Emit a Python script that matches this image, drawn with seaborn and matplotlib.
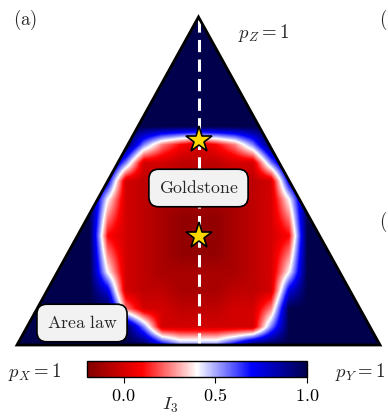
import numpy as np
import matplotlib
matplotlib.use("Agg")
import matplotlib.pyplot as plt
from matplotlib.patches import Polygon
import seaborn as sns

sns.set_theme(style="white")
plt.rcParams["mathtext.fontset"] = "cm"
plt.rcParams["font.family"] = ["DejaVu Serif"]

# I3 value for each level code used in the grid below
level_values = [-0.15, -0.10, -0.05, 0.00, 0.10, 0.25, 0.40, 0.55, 0.75, 1.00]

# I3 on a regular grid over the simplex: rows from p_Z = 1 (top) down to the
# p_X--p_Y edge, 21 columns from the p_X corner to the p_Y corner
i3_rows = [
    "999999999999999999999",
    "999999999999999999999",
    "999999999999999999999",
    "999999999999999999999",
    "999999999999999999999",
    "999999999999999999999",
    "999999999999999999999",
    "999999975434579999999",
    "999999733222337999999",
    "999998322212223899999",
    "999996321111123699999",
    "999995321000123599999",
    "999994321000123499999",
    "999995321000123599999",
    "999996321111123699999",
    "999998322111223899999",
    "999999533222335999999",
    "999999973333337999999",
    "999999998777899999999",
]

# marked points on the p_X = p_Y line
star_pz = [0.625, 1.0 / 3.0]

cbar_ticks = [0.0, 0.5, 1.0]
cbar_ticklabels = [r"$0.0$", r"$0.5$", r"$1.0$"]

W, Hpx = 388, 416
fig = plt.figure(figsize=(W / 100, Hpx / 100), dpi=100)


def fx(px):
    return px / W


def fy(py):
    return 1 - py / Hpx


H = np.sqrt(3) / 2
ax = fig.add_axes([fx(17), fy(345), (380 - 17) / W, (345 - 17) / Hpx])
ax.axis("off")

nrow, ncol = len(i3_rows), len(i3_rows[0])
Z = np.array([[level_values[int(c)] for c in row] for row in i3_rows[::-1]])
dx = 1.0 / (ncol - 1)
dy = H / (nrow - 1)

img = ax.imshow(Z, origin="lower", cmap="seismic_r", vmin=-0.2, vmax=1.0,
                extent=[-dx / 2, 1 + dx / 2, -dy / 2, H + dy / 2],
                interpolation="bilinear", aspect="auto", zorder=1)

simplex = Polygon([(0, 0), (1, 0), (0.5, H)], closed=True, transform=ax.transData,
                  facecolor="none", edgecolor="black", lw=2.0, clip_on=False,
                  joinstyle="miter", zorder=4)
ax.add_patch(simplex)
img.set_clip_path(simplex)
ax.set_xlim(0, 1)
ax.set_ylim(0, H)

# p_X = p_Y line
ax.plot([0.5, 0.5], [0, H], color="white", lw=2.2, ls=(0, (4, 2.4)), zorder=3)

ax.plot([0.5] * len(star_pz), np.array(star_pz) * H, ls="none", marker="*",
        ms=20, mfc="#FFD700", mec="black", mew=1.2, zorder=6, clip_on=False)

box = dict(boxstyle="round,pad=0.55,rounding_size=0.55", fc="#f2f2f2",
           ec="black", lw=1.2)
ax.text(0.5, (345 - 188) / 328 * H, r"$\mathrm{Goldstone}$", ha="center",
        va="center", fontsize=12.8, bbox=box, zorder=7)
ax.text((82 - 17) / 363, (345 - 323) / 328 * H, r"$\mathrm{Area\ law}$",
        ha="center", va="center", fontsize=12.8, bbox=box, zorder=7)

fig.text(fx(25), fy(20), r"$\mathrm{(a)}$", ha="center", va="center", fontsize=13.5)
fig.text(fx(379), fy(20), r"$\mathrm{(}$", ha="left", va="center", fontsize=13.5)
fig.text(fx(379), fy(221), r"$\mathrm{(}$", ha="left", va="center", fontsize=13.5)
fig.text(fx(264), fy(33), r"$p_Z = 1$", ha="center", va="center", fontsize=13.5)
fig.text(fx(35), fy(372), r"$p_X = 1$", ha="center", va="center", fontsize=13.5)
fig.text(fx(360), fy(372), r"$p_Y = 1$", ha="center", va="center", fontsize=13.5)

cax = fig.add_axes([fx(87), fy(377), (307 - 87) / W, 16 / Hpx])
cb = fig.colorbar(img, cax=cax, orientation="horizontal", ticks=cbar_ticks)
cb.set_ticklabels(cbar_ticklabels)
cb.outline.set_linewidth(1.0)
cb.outline.set_edgecolor("black")
cax.tick_params(axis="x", length=4, width=0.8, labelsize=13, pad=3,
                colors="black", bottom=True, direction="out")
cb.set_label(r"$I_3$", fontsize=13.5)
cax.xaxis.set_label_coords(0.377, -1.2)

fig.savefig("out.png", dpi=100)
